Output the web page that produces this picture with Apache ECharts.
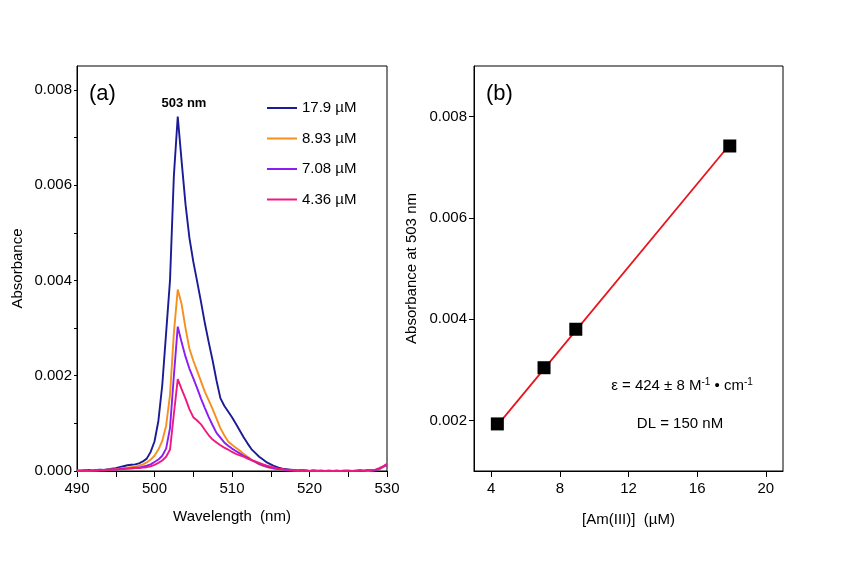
<!DOCTYPE html>
<html><head><meta charset="utf-8">
<script src="https://cdn.jsdelivr.net/npm/echarts@6/dist/echarts.min.js"></script>
<style>html,body{margin:0;padding:0;background:#fff}#c{width:848px;height:568px}</style>
</head><body><div id="c"></div>
<script>
// ---------- Panel (a): spectra ----------
const wavelengths = [
490,490.5,491,491.5,492,492.5,493,493.5,494,494.5,495,495.5,496,496.5,497,497.5,498,498.5,499,499.5,
500,500.5,501,501.5,502,502.5,503,503.5,504,504.5,505,505.5,506,506.5,507,507.5,508,508.5,509,509.5,
510,510.5,511,511.5,512,512.5,513,513.5,514,514.5,515,515.5,516,516.5,517,517.5,518,518.5,519,519.5,
520,520.5,521,521.5,522,522.5,523,523.5,524,524.5,525,525.5,526,526.5,527,527.5,528,528.5,529,529.5,530];

const abs17_9 = [
0.00000,0.00001,0.00000,0.00002,0.00001,0.00002,0.00003,0.00002,0.00004,0.00005,
0.00006,0.00008,0.00010,0.00012,0.00013,0.00014,0.00016,0.00020,0.00026,0.00040,
0.00062,0.00105,0.00180,0.00290,0.00400,0.00620,0.00744,0.00650,0.00560,0.00490,
0.00440,0.00398,0.00355,0.00310,0.00270,0.00232,0.00190,0.00153,0.00137,0.00125,
0.00113,0.00099,0.00085,0.00071,0.00058,0.00046,0.00038,0.00030,0.00024,0.00018,
0.00014,0.00010,0.00007,0.00005,0.00004,0.00003,0.00002,0.00001,0.00002,0.00001,
0.00000,0.00001,0.00000,-0.00001,0.00000,-0.00001,0.00000,-0.00001,-0.00001,0.00000,
-0.00002,-0.00001,-0.00002,-0.00001,-0.00002,-0.00001,0.00000,0.00001,0.00004,0.00009,0.00012];

const abs8_93 = [
0.00000,0.00000,0.00001,0.00000,0.00001,0.00001,0.00002,0.00002,0.00003,0.00003,
0.00004,0.00005,0.00006,0.00007,0.00008,0.00009,0.00011,0.00014,0.00018,0.00024,
0.00032,0.00045,0.00063,0.00095,0.00160,0.00290,0.00381,0.00350,0.00300,0.00257,
0.00232,0.00210,0.00188,0.00166,0.00148,0.00130,0.00110,0.00090,0.00075,0.00062,
0.00055,0.00049,0.00043,0.00036,0.00030,0.00024,0.00019,0.00014,0.00011,0.00008,
0.00006,0.00005,0.00004,0.00003,0.00002,0.00002,0.00001,0.00001,0.00000,0.00001,
0.00000,0.00000,0.00001,0.00000,-0.00001,0.00000,0.00000,-0.00001,0.00000,-0.00001,
0.00000,-0.00001,0.00000,0.00000,-0.00001,0.00000,0.00001,0.00002,0.00004,0.00008,0.00013];

const abs7_08 = [
0.00001,0.00000,0.00001,0.00001,0.00000,0.00001,0.00002,0.00001,0.00002,0.00003,
0.00003,0.00004,0.00005,0.00005,0.00006,0.00007,0.00007,0.00009,0.00011,0.00014,
0.00019,0.00024,0.00032,0.00047,0.00090,0.00200,0.00303,0.00270,0.00240,0.00215,
0.00195,0.00174,0.00152,0.00132,0.00113,0.00096,0.00080,0.00070,0.00060,0.00053,
0.00047,0.00042,0.00037,0.00032,0.00028,0.00023,0.00019,0.00015,0.00012,0.00009,
0.00007,0.00005,0.00004,0.00003,0.00002,0.00001,0.00001,0.00000,0.00001,0.00000,
0.00000,-0.00001,0.00000,0.00000,-0.00001,0.00000,-0.00001,0.00000,0.00000,-0.00001,
0.00000,0.00000,-0.00001,0.00000,0.00000,0.00001,0.00001,0.00002,0.00005,0.00009,0.00014];

const abs4_36 = [
0.00001,0.00000,0.00002,0.00000,0.00001,0.00002,0.00001,0.00002,0.00002,0.00003,
0.00003,0.00004,0.00004,0.00005,0.00005,0.00006,0.00006,0.00007,0.00008,0.00010,
0.00013,0.00017,0.00022,0.00030,0.00045,0.00120,0.00193,0.00172,0.00152,0.00130,
0.00113,0.00106,0.00098,0.00086,0.00075,0.00066,0.00060,0.00054,0.00049,0.00045,
0.00040,0.00036,0.00033,0.00030,0.00026,0.00023,0.00020,0.00017,0.00014,0.00011,
0.00009,0.00007,0.00005,0.00004,0.00003,0.00002,0.00002,0.00001,0.00002,0.00001,
0.00000,0.00001,0.00000,0.00001,0.00000,0.00001,0.00000,0.00001,0.00000,0.00001,
0.00001,0.00000,0.00001,0.00002,0.00001,0.00002,0.00002,0.00003,0.00006,0.00010,0.00015];

const seriesNames = ['17.9 µM', '8.93 µM', '7.08 µM', '4.36 µM'];
const specXTicks = [490,495,500,505,510,515,520,525,530];
const specXLabels = [490,500,510,520,530];
const specYTicks = [0,0.001,0.002,0.003,0.004,0.005,0.006,0.007,0.008];
const specYLabels = [0,0.002,0.004,0.006,0.008];

// ---------- Panel (b): calibration ----------
const concentrations = [4.36, 7.08, 8.93, 17.9];
const peakAbs = [0.00193, 0.00304, 0.00380, 0.00742];
const fitX = [4.36, 17.9];
const fitY = [0.00190, 0.00745];
const calXTicks = [4, 8, 12, 16, 20];
const calYTicks = [0.002, 0.004, 0.006, 0.008];

// ---------- styles ----------
const lineColors = ['#1b1b96', '#f5901e', '#8a1ef2', '#ee1a80'];
const FONT = '"Liberation Sans", Arial, sans-serif';

const spectra = [abs17_9, abs8_93, abs7_08, abs4_36];
const pair = (xs, ys) => xs.map((x, i) => [x, ys[i]]);

const chart = echarts.init(document.getElementById('c'), null, {renderer: 'canvas'});

const axisCommon = {
  axisLine: {show: true, onZero: false, lineStyle: {color: '#000', width: 1}},
  splitLine: {show: false},
  axisLabel: {color: '#000', fontSize: 15, fontFamily: FONT},
  nameTextStyle: {color: '#000', fontSize: 15, fontFamily: FONT},
  nameLocation: 'middle'
};

const option = {
  animation: false,
  backgroundColor: '#fff',
  grid: [
    {left: 77, top: 66, width: 310, height: 405, show: true, borderColor: '#000', borderWidth: 1, backgroundColor: 'transparent'},
    {left: 474, top: 66, width: 309, height: 405, show: true, borderColor: '#000', borderWidth: 1, backgroundColor: 'transparent'}
  ],
  xAxis: [
    Object.assign({}, axisCommon, {
      type: 'value', gridIndex: 0, min: 490, max: 530,
      name: 'Wavelength  (nm)', nameGap: 38,
      axisTick: {show: true, inside: false, length: 6, customValues: specXTicks, lineStyle: {color: '#000'}},
      axisLabel: Object.assign({}, axisCommon.axisLabel, {customValues: specXLabels, margin: 10})
    }),
    Object.assign({}, axisCommon, {
      type: 'value', gridIndex: 1, min: 3, max: 21,
      name: '[Am(III)]  (µM)', nameGap: 41,
      axisTick: {show: true, inside: false, length: 6, customValues: calXTicks, lineStyle: {color: '#000'}},
      axisLabel: Object.assign({}, axisCommon.axisLabel, {customValues: calXTicks, margin: 10})
    })
  ],
  yAxis: [
    Object.assign({}, axisCommon, {
      type: 'value', gridIndex: 0, min: 0, max: 0.0085,
      name: 'Absorbance', nameGap: 52,
      axisTick: {show: true, inside: false, length: 3, customValues: specYTicks, lineStyle: {color: '#000'}},
      axisLabel: Object.assign({}, axisCommon.axisLabel, {customValues: specYLabels, margin: 5,
        formatter: v => Number(v).toFixed(3)})
    }),
    Object.assign({}, axisCommon, {
      type: 'value', gridIndex: 1, min: 0.001, max: 0.009,
      name: 'Absorbance at 503 nm', nameGap: 55,
      axisTick: {show: true, inside: false, length: 5, customValues: calYTicks, lineStyle: {color: '#000'}},
      axisLabel: Object.assign({}, axisCommon.axisLabel, {customValues: calYTicks, margin: 7,
        formatter: v => Number(v).toFixed(3)})
    })
  ],
  legend: {
    orient: 'vertical', left: 267, top: 99, padding: 0,
    itemWidth: 30, itemHeight: 2, itemGap: 12.5, icon: 'rect',
    data: seriesNames,
    textStyle: {color: '#000', fontSize: 15, fontFamily: FONT, lineHeight: 18}
  },
  series: spectra.map((arr, i) => ({
    type: 'line', name: seriesNames[i], xAxisIndex: 0, yAxisIndex: 0,
    data: pair(wavelengths, arr), showSymbol: false, symbol: 'none',
    color: lineColors[i], lineStyle: {color: lineColors[i], width: 1.9}, clip: true
  })).concat([
    {type: 'line', name: 'fit', xAxisIndex: 1, yAxisIndex: 1, data: pair(fitX, fitY),
     showSymbol: false, symbol: 'none', lineStyle: {color: '#e8141c', width: 1.8}, z: 2},
    {type: 'scatter', name: 'points', xAxisIndex: 1, yAxisIndex: 1, data: pair(concentrations, peakAbs),
     symbol: 'rect', symbolSize: 13, itemStyle: {color: '#000', opacity: 1}, z: 3}
  ]),
  graphic: [
    {type: 'text', left: 89, top: 83, style: {text: '(a)', font: '22px ' + FONT, fill: '#000'}},
    {type: 'text', left: 486, top: 83, style: {text: '(b)', font: '22px ' + FONT, fill: '#000'}},
    {type: 'text', x: 184, y: 103, style: {text: '503 nm', font: 'bold 13px ' + FONT, fill: '#000', align: 'center', verticalAlign: 'middle'}},
    {type: 'text', x: 682, y: 386, style: {
      text: '{n|ε = 424 ± 8 M}{s|-1}{n| • cm}{s|-1}',
      align: 'center', verticalAlign: 'middle',
      rich: {
        n: {fontSize: 15, fontFamily: FONT, fill: '#000', lineHeight: 18, color: '#000'},
        s: {fontSize: 10, fontFamily: FONT, fill: '#000', lineHeight: 10, verticalAlign: 'top', color: '#000'}
      }}},
    {type: 'text', x: 680, y: 424, style: {text: 'DL = 150 nM', font: '15px ' + FONT, fill: '#000', align: 'center', verticalAlign: 'middle'}}
  ]
};
chart.setOption(option);
</script>
</body></html>
